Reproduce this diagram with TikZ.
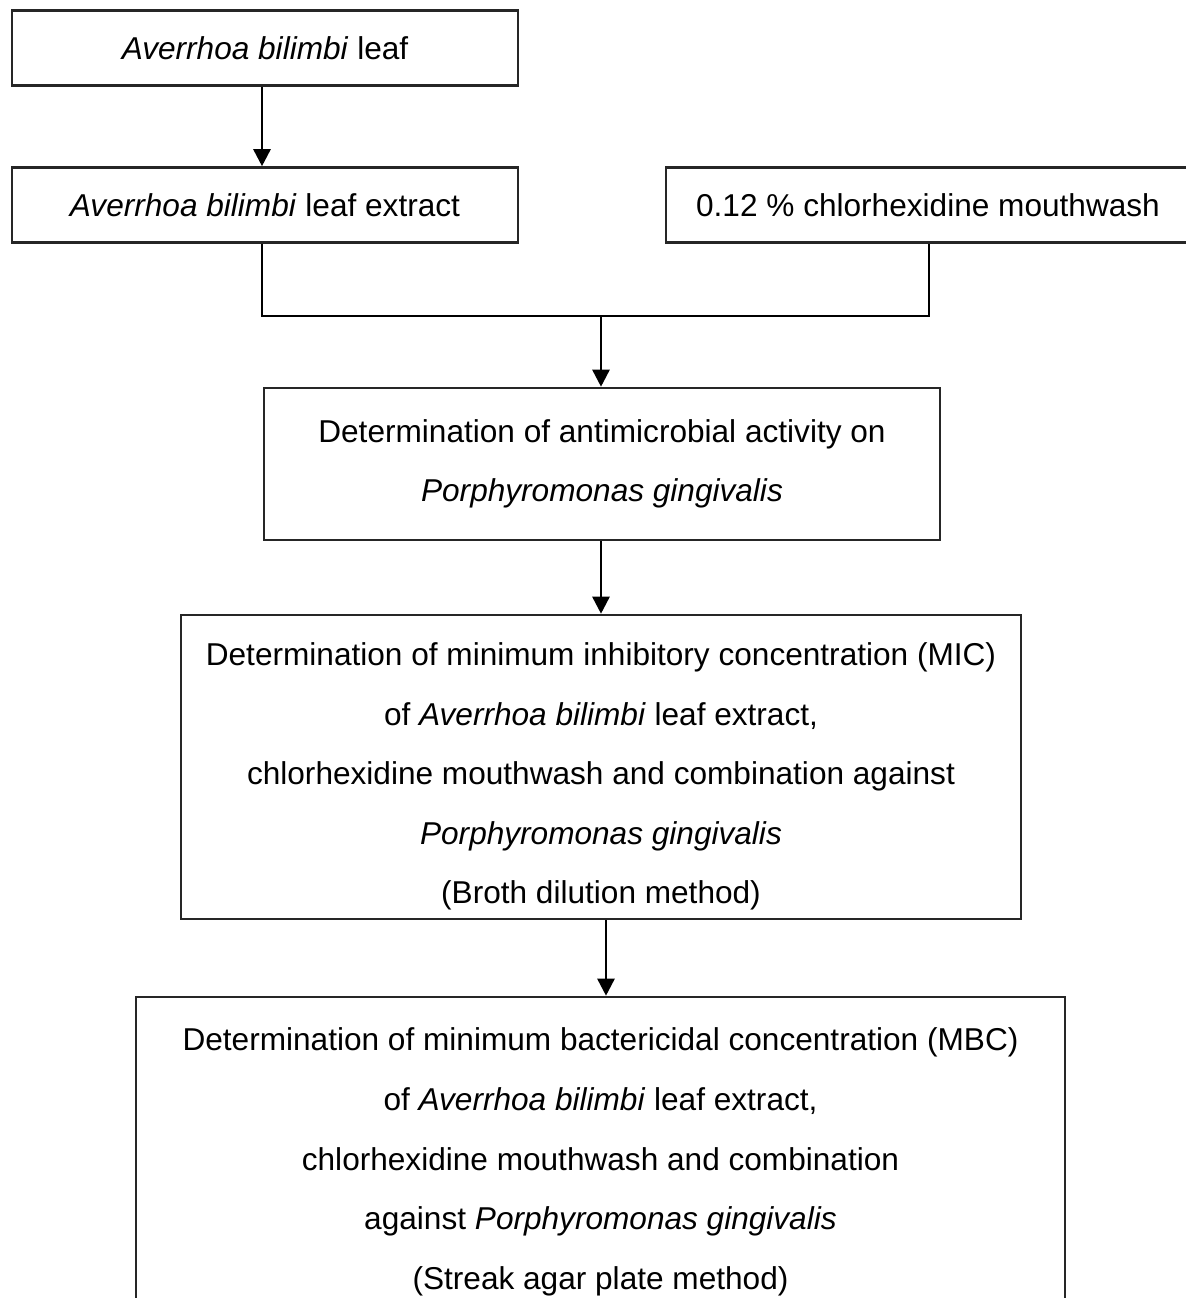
\documentclass[tikz,border=0pt]{standalone}
\usepackage{fontspec}
\setmainfont{Liberation Sans}
\usetikzlibrary{arrows.meta,positioning}
\tikzset{
  box/.style={draw=black!85,line width=1.3pt,align=center,inner sep=0pt,
    font=\fontsize{15.8}{29.8}\selectfont},
  flow/.style={line width=1.3pt,-{Triangle[width=8.5pt,length=8.5pt]}}
}
\begin{document}
\begin{tikzpicture}[x=0.5pt,y=-0.5pt]
    \useasboundingbox (0,0) rectangle (1186,1298);

    % top row
    \node[box,minimum width=253pt,minimum height=37.5pt] (leaf) at (265,48) {\textit{Averrhoa bilimbi} leaf};
    \node[box,minimum width=253pt,minimum height=37.5pt] (extract) at (265,205) {\textit{Averrhoa bilimbi} leaf extract};
    \node[box,minimum width=262pt,minimum height=37.5pt] (chx) at (928,205) {0.12 \% chlorhexidine mouthwash};

    % tests
    \node[box,minimum width=338pt,minimum height=76pt] (activity) at (602,464)
      {Determination of antimicrobial activity on\\ \textit{Porphyromonas gingivalis}};
    \node[box,minimum width=420pt,minimum height=152pt] (mic) at (601,767)
      {\rule{0pt}{21pt}Determination of minimum inhibitory concentration (MIC)\\
       of \textit{Averrhoa bilimbi} leaf extract,\\
       chlorhexidine mouthwash and combination against\\
       \textit{Porphyromonas gingivalis}\\
       (Broth dilution method)};
    \node[box,minimum width=464.5pt,minimum height=165pt] (mbc) at (600.5,1162)
      {Determination of minimum bactericidal concentration (MBC)\\
       of \textit{Averrhoa bilimbi} leaf extract,\\
       chlorhexidine mouthwash and combination\\
       against \textit{Porphyromonas gingivalis}\\
       (Streak agar plate method)};

    \coordinate (jl) at (262,316);
    \coordinate (jr) at (929,316);
    \coordinate (jm) at (601,316);

    \draw[flow] (262,0 |- leaf.south) -- (262,0 |- extract.north);
    \draw[line width=1.3pt] (262,0 |- extract.south) -- (jl) -- (jr) -- (929,0 |- chx.south);
    \draw[flow] (jm) -- (601,0 |- activity.north);
    \draw[flow] (601,0 |- activity.south) -- (601,0 |- mic.north);
    \draw[flow] (606,0 |- mic.south) -- (606,0 |- mbc.north);
\end{tikzpicture}
\end{document}
